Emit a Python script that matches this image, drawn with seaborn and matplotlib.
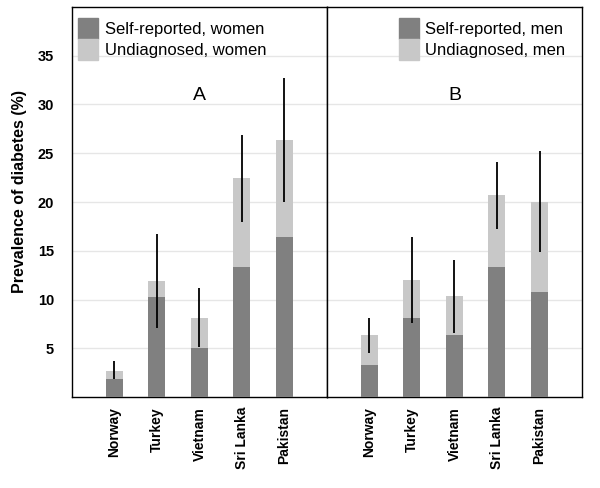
import pandas as pd
import numpy as np
import matplotlib
matplotlib.use("Agg")
import matplotlib.pyplot as plt
import seaborn as sns
from matplotlib.patches import Patch

sns.set_style("white")
plt.rcParams['font.family'] = ['Liberation Sans', 'DejaVu Sans']
plt.rcParams['text.color'] = 'black'
plt.rcParams['axes.labelcolor'] = 'black'
plt.rcParams['xtick.color'] = 'black'
plt.rcParams['ytick.color'] = 'black'

# data (% prevalence)
countries = ['Norway', 'Turkey', 'Vietnam', 'Sri Lanka', 'Pakistan']

women_self = [1.9, 10.3, 5.0, 13.3, 16.4]
women_total = [2.7, 11.9, 8.1, 22.5, 26.4]
women_ci_low = [1.9, 7.1, 5.1, 18.0, 20.0]
women_ci_high = [3.7, 16.7, 11.2, 26.9, 32.7]

men_self = [3.3, 8.1, 6.35, 13.3, 10.8]
men_total = [6.4, 12.0, 10.4, 20.7, 20.0]
men_ci_low = [4.5, 7.6, 6.6, 17.2, 14.9]
men_ci_high = [8.1, 16.4, 14.1, 24.1, 25.2]

dark = '#808080'
light = '#c8c8c8'

fig, axes = plt.subplots(1, 2, figsize=(6, 4.88), dpi=100, sharey=True)
fig.subplots_adjust(left=0.12, right=0.97, bottom=0.186, top=0.986, wspace=0)

panels = [
    (axes[0], women_self, women_total, women_ci_low, women_ci_high, 'women', 'A',
     'upper left', (0.024, 0.972)),
    (axes[1], men_self, men_total, men_ci_low, men_ci_high, 'men', 'B',
     'upper right', (0.935, 0.972)),
]

for ax, self_rep, total, lo, hi, sex, letter, loc, anchor in panels:
    df = pd.DataFrame({'country': countries, 'self': self_rep, 'total': total,
                       'lo': lo, 'hi': hi})
    ax.set_axisbelow(True)
    ax.yaxis.grid(True, color='#e6e6e6', linewidth=1)
    sns.barplot(data=df, x='country', y='total', color=light, width=0.4,
                saturation=1, linewidth=0, ax=ax, zorder=2)
    sns.barplot(data=df, x='country', y='self', color=dark, width=0.4,
                saturation=1, linewidth=0, ax=ax, zorder=3)
    ax.vlines(np.arange(len(countries)), df['lo'], df['hi'], color='black',
              linewidth=1.3, zorder=4)
    ax.set_xlim(-1, len(countries))
    ax.set_ylim(0, 40)
    ax.set_yticks([5, 10, 15, 20, 25, 30, 35])
    ax.set_xlabel('')
    ax.set_ylabel('')
    ax.tick_params(axis='both', length=0)
    ax.tick_params(axis='x', labelrotation=90, pad=7)
    ax.tick_params(axis='y', pad=13)
    for lab in ax.get_xticklabels():
        lab.set_fontweight('bold')
        lab.set_fontsize(10)
    for lab in ax.get_yticklabels():
        lab.set_fontweight('bold')
        lab.set_fontsize(10.5)
    for s in ax.spines.values():
        s.set_visible(True)
        s.set_color('black')
        s.set_linewidth(1)
    ax.text(2, 30.9, letter, ha='center', va='center', fontsize=14)
    handles = [Patch(color=dark, label=f'Self-reported, {sex}'),
               Patch(color=light, label=f'Undiagnosed, {sex}')]
    ax.legend(handles=handles, loc=loc, bbox_to_anchor=anchor, frameon=False,
              fontsize=12, handlelength=1.2, handleheight=1.55,
              labelspacing=0.0, handletextpad=0.4, borderaxespad=0,
              borderpad=0)

axes[0].set_ylabel('Prevalence of diabetes (%)', fontsize=11.5,
                   fontweight='bold')
axes[0].yaxis.set_label_coords(-0.175, 0.528)

fig.savefig('out.png', dpi=100)
